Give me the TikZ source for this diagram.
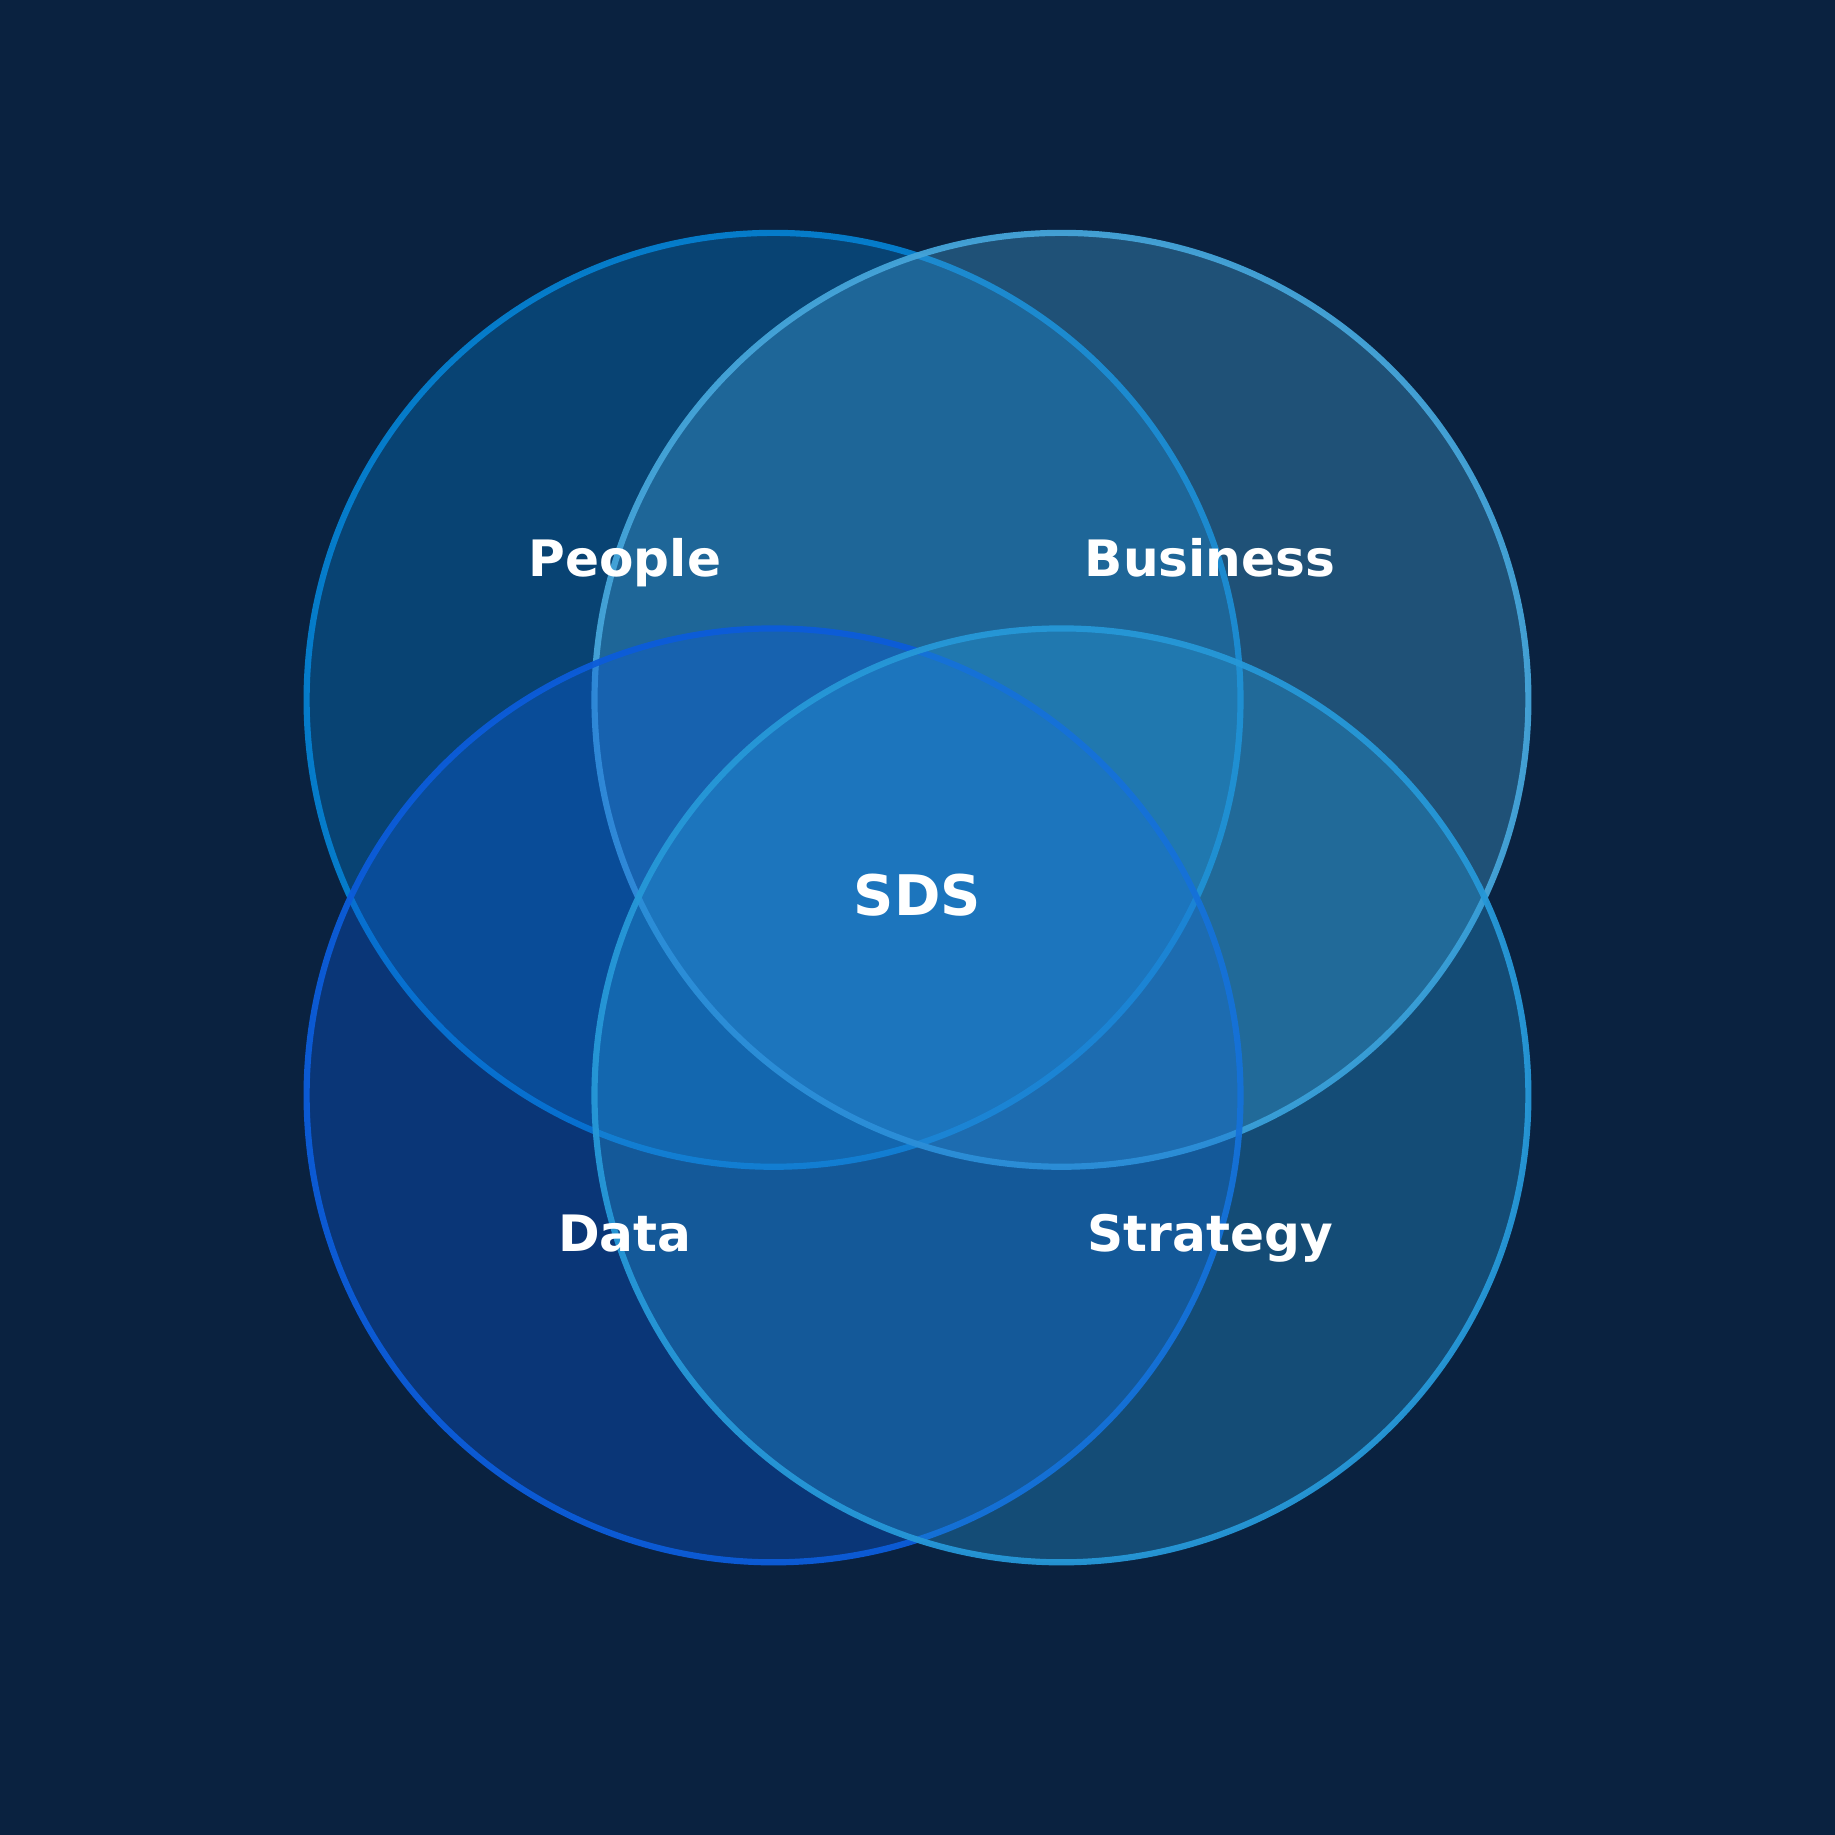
\documentclass[tikz,border=0pt]{standalone}
\usepackage{fontspec}
\setsansfont{DejaVu Sans}
\definecolor{bgnavy}{HTML}{0A2240}
\definecolor{peoplecol}{HTML}{0580D0}
\definecolor{businesscol}{HTML}{45A5DA}
\definecolor{datacol}{HTML}{0C5CDA}
\definecolor{strategycol}{HTML}{2698D8}
\tikzset{
    ring/.style={line width=1.5pt, fill opacity=0.36, draw opacity=0.95},
    label/.style={text=white, font=\sffamily\bfseries\fontsize{12.2}{14}\selectfont, anchor=base},
    core/.style={text=white, font=\sffamily\bfseries\fontsize{13.6}{16}\selectfont, anchor=base}
}
\begin{document}
\begin{tikzpicture}
        \fill[bgnavy] (-7.84,-7.84) rectangle (7.84,7.84);
        \useasboundingbox (-7.84,-7.84) rectangle (7.84,7.84);

        \draw[ring, draw=peoplecol, fill=peoplecol] (-1.23,1.86) circle (3.99);
        \draw[ring, draw=businesscol, fill=businesscol] (1.23,1.86) circle (3.99);
        \draw[ring, draw=datacol, fill=datacol] (-1.23,-1.52) circle (3.99);
        \draw[ring, draw=strategycol, fill=strategycol] (1.23,-1.52) circle (3.99);

        \node[label] (people) at (-2.5,2.91) {People};
        \node[label] (business) at (2.5,2.91) {Business};
        \node[label] (data) at (-2.5,-2.856) {Data};
        \node[label] (strategy) at (2.5,-2.856) {Strategy};
        \node[core] (sds) at (0,0.02) {SDS};
    \end{tikzpicture}
\end{document}
